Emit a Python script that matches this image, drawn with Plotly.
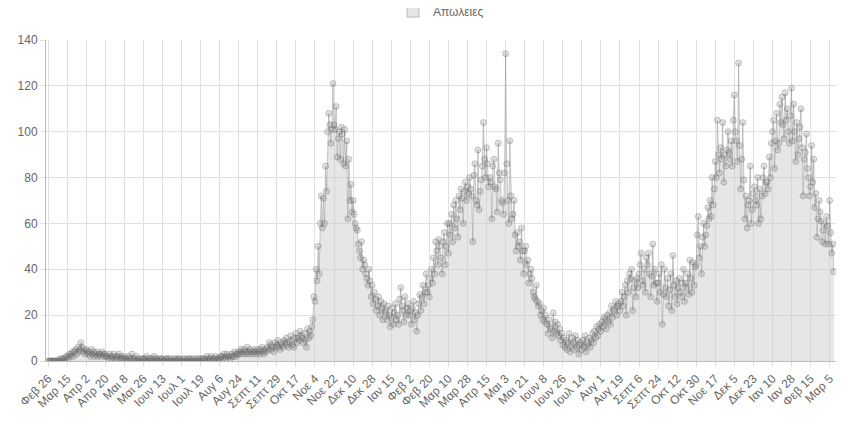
import datetime
import plotly.graph_objects as go

deaths = [
0,0,0,0,0,0,0,0,0,0,0,1,0,1,1,0,1,2,
2,1,3,2,3,4,2,4,5,3,6,4,5,8,6,4,5,3,
5,4,3,4,2,5,3,4,2,3,4,2,3,3,2,4,3,2,
3,2,2,1,3,2,1,2,3,1,2,1,2,3,1,2,1,1,
2,1,1,0,2,1,1,3,0,1,1,2,0,1,0,1,0,1,
1,0,1,2,0,1,0,1,1,0,2,1,0,1,0,1,0,1,
1,0,0,1,1,0,1,0,1,0,0,1,0,1,0,1,1,0,
0,1,0,1,0,0,1,1,0,1,0,1,0,0,1,0,1,0,
1,0,1,1,0,1,2,0,1,1,2,0,1,1,2,1,0,1,
1,2,2,1,3,2,1,3,2,2,1,3,2,2,4,3,2,3,
4,3,5,4,3,5,4,3,6,4,3,5,4,3,4,5,4,3,
5,4,3,5,6,4,3,5,4,6,5,8,7,5,6,4,8,6,
7,9,6,5,8,7,6,9,8,10,7,6,8,11,9,7,6,10,
12,8,10,9,13,11,10,8,12,9,6,14,10,13,11,15,18,28,
26,40,35,50,38,60,72,58,71,60,85,74,100,108,103,95,101,121,
103,101,111,89,97,100,88,102,99,86,101,85,96,62,88,70,77,65,
70,64,60,58,57,51,48,45,52,40,44,42,38,36,33,40,35,28,
33,25,30,27,22,24,28,20,26,23,18,25,22,21,18,24,20,15,
19,23,16,21,25,18,20,16,27,32,24,22,17,28,20,23,25,20,
22,16,23,26,18,21,13,20,25,29,22,28,33,25,30,38,30,33,
28,36,40,34,45,38,52,48,42,53,50,45,38,52,56,42,50,60,
47,60,55,64,52,68,58,70,62,54,72,66,75,71,60,74,78,70,
76,73,80,75,72,52,81,86,70,68,92,66,74,79,85,104,88,80,
93,86,76,80,78,62,85,88,76,75,65,95,82,79,70,69,64,82,
134,86,70,60,96,72,62,64,70,55,48,56,50,52,44,58,48,38,
48,50,42,44,34,38,40,36,30,28,27,33,26,24,25,20,22,18,
23,17,20,16,12,18,15,14,10,21,13,17,12,16,11,14,9,12,
7,10,6,9,5,8,12,4,7,10,8,5,11,6,9,3,7,8,
5,9,6,11,4,8,7,10,6,9,12,8,13,10,15,11,14,16,
13,17,15,19,18,14,20,17,21,16,24,19,22,23,26,20,24,25,
22,26,30,24,28,33,20,35,30,38,36,40,22,32,35,28,36,32,
38,42,47,35,33,40,30,45,42,47,38,28,37,51,33,40,34,26,
34,38,30,42,16,29,40,32,28,36,24,31,38,22,46,33,28,35,
25,32,36,30,28,34,40,26,34,32,38,29,44,36,30,43,33,41,
42,55,63,45,50,38,54,60,50,55,59,67,62,70,63,80,68,75,
87,80,105,90,82,93,88,104,78,90,85,92,100,91,88,96,85,105,
116,100,96,87,130,94,75,88,104,79,62,72,58,68,70,85,60,66,
73,76,70,68,80,60,75,62,72,80,85,73,78,78,75,89,80,95,
100,105,84,96,108,92,95,112,104,115,103,97,117,105,110,100,95,107,
119,96,112,100,87,104,90,97,102,110,93,72,88,91,99,84,80,72,
76,94,78,88,67,73,54,62,70,65,61,52,57,60,51,63,59,51,
70,56,47,51,39,
]
months = ["Ιαν","Φεβ","Μαρ","Απρ","Μαι","Ιουν","Ιουλ","Αυγ","Σεπτ","Οκτ","Νοε","Δεκ"]
start = datetime.date(2020, 2, 26)
labels = []
for i in range(len(deaths)):
    d = start + datetime.timedelta(days=i)
    labels.append(f"{months[d.month-1]} {d.day}")
xs = list(range(len(deaths)))
tickpos = xs[::18]
ticktext = [labels[i] for i in tickpos]

fig = go.Figure()
fig.add_trace(go.Scatter(
    x=xs, y=deaths, mode="lines+markers", name="Απώλειες", showlegend=False,
    fill="tozeroy", fillcolor="rgba(200,200,200,0.45)",
    line=dict(color="rgba(140,140,140,0.45)", width=1),
    marker=dict(size=6, color="rgba(120,120,120,0.22)",
                line=dict(color="rgba(90,90,90,0.3)", width=1)),
    text=labels, hovertemplate="%{text}: %{y}<extra></extra>"))
fig.add_trace(go.Bar(x=[None], y=[None], name="Απώλειες",
                     marker=dict(color="rgba(200,200,200,0.45)",
                                 line=dict(color="rgba(150,150,150,0.6)", width=1))))
fig.update_layout(
    width=845, height=421, plot_bgcolor="white", paper_bgcolor="white",
    margin=dict(l=38, r=17, t=32, b=68, autoexpand=False),
    font=dict(family="Arial, Liberation Sans, sans-serif", size=12, color="#666"),
    showlegend=True,
    legend=dict(orientation="h", x=0.5, xanchor="center", y=1.09, yanchor="middle",
                font=dict(size=12, color="#666")),
)
fig.update_xaxes(range=[-2, len(deaths)+1], tickmode="array", tickvals=tickpos,
                 ticktext=ticktext, tickangle=-45, showgrid=True, gridcolor="#e0e0e0",
                 showline=True, linecolor="#bbb", ticks="outside", ticklen=5, tickcolor="#e0e0e0",
                 zeroline=False, automargin=False)
fig.update_yaxes(range=[0, 140], dtick=20, showgrid=True, gridcolor="#e0e0e0",
                 showline=True, linecolor="#bbb", zeroline=False, ticks="outside",
                 ticklen=5, tickcolor="#e0e0e0", automargin=False)
fig.write_html("out.html")
